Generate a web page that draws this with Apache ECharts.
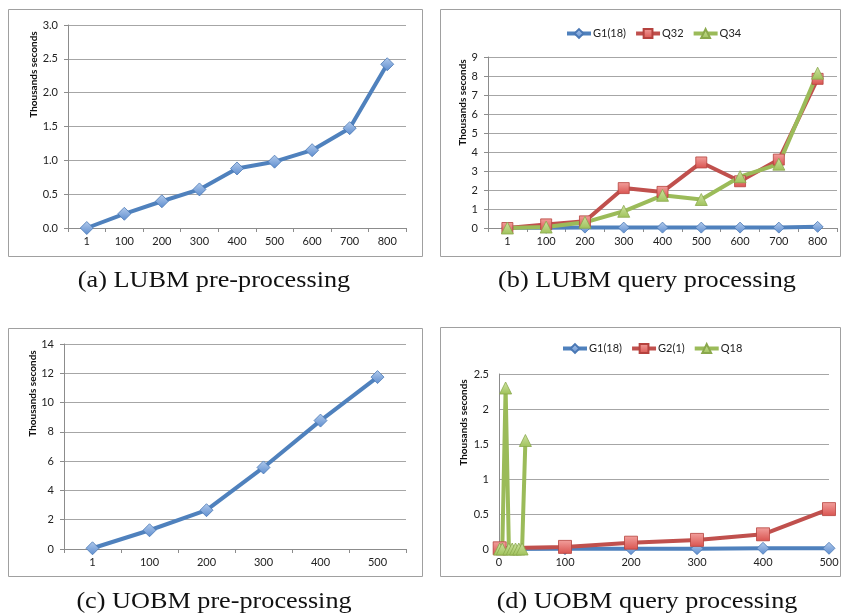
<!DOCTYPE html>
<html><head><meta charset="utf-8">
<script src="https://cdn.jsdelivr.net/npm/echarts@6/dist/echarts.min.js"></script>
<style>html,body{margin:0;padding:0;background:#fff}#c{width:843px;height:616px}</style>
</head><body><div id="c"></div>
<script>
// ---- data ----
const lubmSizes = ['1','100','200','300','400','500','600','700','800'];
const lubmPre = [0, 0.21, 0.395, 0.57, 0.88, 0.98, 1.15, 1.475, 2.42];
const lubmG1 = [0.01, 0.01, 0.02, 0.02, 0.02, 0.02, 0.02, 0.02, 0.06];
const lubmQ32 = [0, 0.19, 0.35, 2.1, 1.9, 3.45, 2.46, 3.6, 7.85];
const lubmQ34 = [0, 0.05, 0.3, 0.88, 1.72, 1.5, 2.7, 3.36, 8.15];
const uobmSizes = ['1','100','200','300','400','500'];
const uobmPre = [0.05, 1.28, 2.65, 5.57, 8.77, 11.74];
const uobmG1X = [1, 100, 200, 300, 400, 500];
const uobmG1 = [0, 0.005, 0.005, 0.005, 0.01, 0.01];
const uobmG2X = [1, 100, 200, 300, 400, 500];
const uobmG2 = [0.01, 0.03, 0.09, 0.13, 0.21, 0.57];
const uobmQ18X = [1, 5, 10, 15, 20, 25, 30, 35, 40];
const uobmQ18 = [0, 0, 2.3, 0, 0, 0, 0, 0, 1.55];
const captions = ['(a) LUBM pre-processing', '(b) LUBM query processing', '(c) UOBM pre-processing', '(d) UOBM query processing'];
const yTitle = 'Thousands seconds';

// ---- styles ----
const BLUE = '#4F81BD', RED = '#C0504D', GREEN = '#9BBB59';
function grad(c1, c2) { return {type:'linear', x:0, y:0, x2:0, y2:1, colorStops:[{offset:0, color:c1}, {offset:1, color:c2}]}; }
const blueMark = {color: grad('#b3cbec', '#5d8dcf'), borderColor: '#4a78b5', borderWidth: 0.8};
const redMark = {color: grad('#f2a09d', '#d9534f'), borderColor: '#b5423e', borderWidth: 0.8};
const greenMark = {color: grad('#cfe3a3', '#9fc25a'), borderColor: '#8aa84c', borderWidth: 0.8};
const labelStyle = {fontFamily: 'Lato', fontSize: 11, color: '#222'};
const gridLine = {show: true, lineStyle: {color: '#a6a6a6', width: 1}};
const axLine = {show: true, lineStyle: {color: '#8c8c8c', width: 1}};

function pairs(xs, ys) { return xs.map((x, i) => [x, ys[i]]); }
function ser(name, data, color, symbol, size, mark, idx) {
  return {type: 'line', name, data, xAxisIndex: idx, yAxisIndex: idx, symbol, symbolSize: size,
    showAllSymbol: true, lineStyle: {color, width: 4}, itemStyle: mark, emphasis: {disabled: true}};
}
function catX(data, idx) {
  return {type: 'category', gridIndex: idx, data, boundaryGap: true,
    axisLine: axLine, axisTick: {show: true, length: 4, lineStyle: {color: '#8c8c8c'}},
    axisLabel: Object.assign({margin: 8, interval: 0}, labelStyle), splitLine: {show: false}};
}
function valY(idx, max, interval, fmt, gap, shift, ticks) {
  return {type: 'value', gridIndex: idx, min: 0, max, interval,
    name: yTitle, nameLocation: 'middle', nameGap: gap,
    nameTextStyle: {fontFamily: 'Lato', fontWeight: 'bold', fontSize: 10, color: '#111', padding: [0, 0, 0, shift]},
    axisLine: axLine, axisTick: {show: ticks, length: 4, lineStyle: {color: '#8c8c8c'}},
    axisLabel: Object.assign({margin: 10, formatter: fmt}, labelStyle), splitLine: gridLine};
}
function legend(names, left, top) {
  return {data: names, left, top, padding: 0, itemWidth: 24, itemHeight: 11, itemGap: 8,
    lineStyle: {width: 4}, textStyle: {fontFamily: 'Lato', fontSize: 11, color: '#222', padding: [0, 0, 0, -3]}};
}
function caption(text, x, y) {
  return {type: 'text', x, y, scaleX: 1.14, style: {text, font: '23px "Liberation Serif", serif', fill: '#111', textAlign: 'center', textVerticalAlign: 'middle'}};
}
function frame(x, y, w, h) {
  return {type: 'rect', shape: {x, y, width: w, height: h}, style: {fill: 'none', stroke: '#a0a0a0', lineWidth: 1}, silent: true};
}

const chart = echarts.init(document.getElementById('c'), null, {renderer: 'canvas'});
chart.setOption({
  animation: false,
  backgroundColor: '#fff',
  grid: [
    {left: 68, top: 25, width: 338, height: 203},
    {left: 488, top: 57, width: 349, height: 171},
    {left: 64, top: 344, width: 342, height: 205},
    {left: 499, top: 374, width: 330, height: 175}
  ],
  legend: [
    legend(['G1(18)', 'Q32', 'Q34'], 565, 28),
    legend(['G1(18)', 'G2(1)', 'Q18'], 561, 343)
  ],
  xAxis: [
    catX(lubmSizes, 0),
    catX(lubmSizes, 1),
    catX(uobmSizes, 2),
    {type: 'value', gridIndex: 3, min: 0, max: 500, interval: 100, axisLine: axLine, axisTick: {show: false},
     axisLabel: Object.assign({margin: 8}, labelStyle), splitLine: {show: false}}
  ],
  yAxis: [
    valY(0, 3, 0.5, v => v.toFixed(1), 28, 104, true),
    valY(1, 9, 1, v => String(v), 19, 80, true),
    valY(2, 14, 2, v => String(v), 26, 106, true),
    valY(3, 2.5, 0.5, v => String(v), 30, 78, false)
  ],
  series: [
    ser('LUBM pre-processing', lubmPre, BLUE, 'diamond', 13, blueMark, 0),
    ser('G1(18)', lubmG1, BLUE, 'diamond', 11, blueMark, 1),
    ser('Q32', lubmQ32, RED, 'rect', 11, redMark, 1),
    ser('Q34', lubmQ34, GREEN, 'triangle', 12, greenMark, 1),
    ser('UOBM pre-processing', uobmPre, BLUE, 'diamond', 13, blueMark, 2),
    ser('G1(18)', pairs(uobmG1X, uobmG1), BLUE, 'diamond', 12, blueMark, 3),
    ser('G2(1)', pairs(uobmG2X, uobmG2), RED, 'rect', 13, redMark, 3),
    ser('Q18', pairs(uobmQ18X, uobmQ18), GREEN, 'triangle', 12, greenMark, 3)
  ],
  graphic: [
    frame(8.5, 9.5, 414, 247),
    frame(440.5, 9.5, 400, 247),
    frame(8.5, 328.5, 414, 248),
    frame(440.5, 327.5, 400, 249),
    caption(captions[0], 214, 281),
    caption(captions[1], 647, 281),
    caption(captions[2], 214, 602),
    caption(captions[3], 647, 602)
  ]
});
</script></body></html>
